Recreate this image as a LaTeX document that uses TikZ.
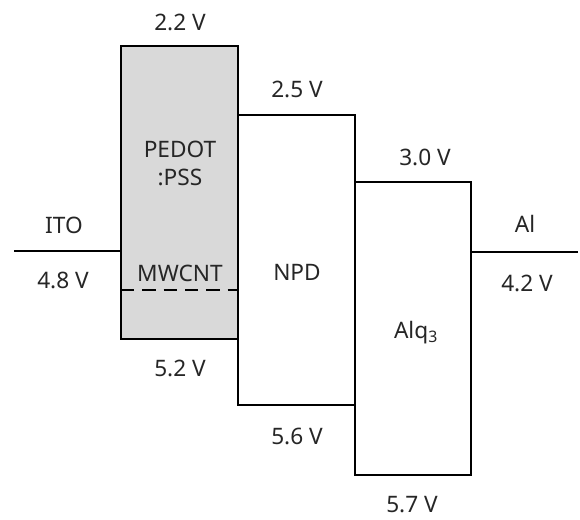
\documentclass[tikz,border=0pt]{standalone}
\usepackage{fontspec}
\setmainfont{Noto Sans}
\usetikzlibrary{positioning}

\begin{document}
\begin{tikzpicture}[
    x=0.75pt, y=-0.75pt,
    every node/.style={align=center, font=\fontsize{17}{21}\selectfont, text=black!85},
    layer/.style={rectangle, draw, line width=2.2pt, inner sep=0pt, minimum width=87.75pt, minimum height=219pt},
    hole/.style={rectangle, draw, line width=2.2pt, fill=gray!30, inner sep=0pt, minimum width=87.75pt, minimum height=219.75pt},
    electrode/.style={line width=2.2pt},
    level/.style={line width=2.2pt, dash pattern=on 10pt off 6pt}
]
\useasboundingbox (0,0) rectangle (580,519);

% Layers
\node[hole] (pedot) at (179.5,192.5) {};
\node[layer, minimum height=217.5pt] (npd) at (296.5,260) {};
\node[layer, minimum width=87pt, minimum height=219.75pt] (alq) at (413,328.5) {};

% Electrodes
\coordinate (ito) at (14,251);
\coordinate (al) at (578,252);
\draw[electrode] (ito) -- (ito -| pedot.west);
\draw[electrode] (alq.east |- al) -- (al);

% MWCNT level
\coordinate (mwcnt) at (121,290);
\draw[level] (mwcnt) -- (mwcnt -| pedot.east);

% Layer names
\node (pedotname) at (180,163) {PEDOT\\:PSS};
\node (mwcntname) at (180,273) {MWCNT};
\node (npdname) at (297,272) {NPD};
\node (alqname) at (416,333) {Alq\textsubscript{3}};
\node (itoname) at (64,225) {ITO};
\node (alname) at (525,224) {Al};

% Energy values
\node (pedottop) at (180,22) {2.2 V};
\node (pedotbot) at (180,368) {5.2 V};
\node (npdtop) at (297,89) {2.5 V};
\node (npdbot) at (297,436) {5.6 V};
\node (alqtop) at (425,157) {3.0 V};
\node (alqbot) at (412,505) {5.7 V};
\node (itoval) at (63,280) {4.8 V};
\node (alval) at (527,283) {4.2 V};

\end{tikzpicture}
\end{document}
